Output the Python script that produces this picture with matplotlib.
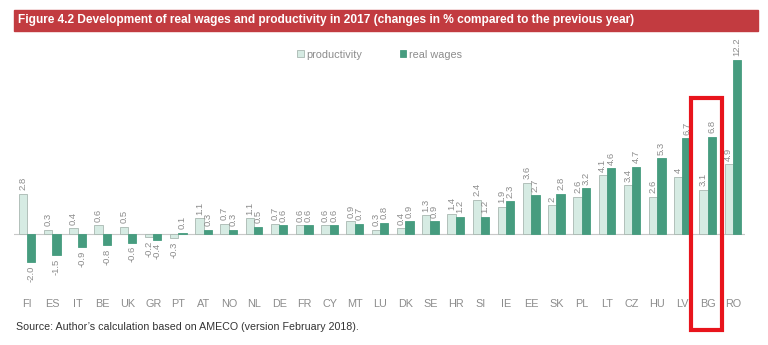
import matplotlib
matplotlib.use("Agg")
import matplotlib.pyplot as plt
from matplotlib.patches import Rectangle
import numpy as np

plt.rcParams['font.family'] = ['Liberation Sans', 'DejaVu Sans']

##########################################
# data
countries = ['FI', 'ES', 'IT', 'BE', 'UK', 'GR', 'PT', 'AT', 'NO', 'NL',
             'DE', 'FR', 'CY', 'MT', 'LU', 'DK', 'SE', 'HR', 'SI', 'IE',
             'EE', 'SK', 'PL', 'LT', 'CZ', 'HU', 'LV', 'BG', 'RO']
productivity = [2.8, 0.3, 0.4, 0.6, 0.5, -0.2, -0.3, 1.1, 0.7, 1.1,
                0.7, 0.6, 0.6, 0.9, 0.3, 0.4, 1.3, 1.4, 2.4, 1.9,
                3.6, 2, 2.6, 4.1, 3.4, 2.6, 4, 3.1, 4.9]
real_wages = [-2.0, -1.5, -0.9, -0.8, -0.6, -0.4, 0.1, 0.3, 0.3, 0.5,
              0.6, 0.6, 0.6, 0.7, 0.8, 0.9, 0.9, 1.2, 1.2, 2.3,
              2.7, 2.8, 3.2, 4.6, 4.7, 5.3, 6.7, 6.8, 12.2]
highlight = 'BG'

title = ("Figure 4.2 Development of real wages and productivity in 2017 "
         "(changes in % compared to the previous year)")
source = "Source: Author\u2019s calculation based on AMECO (version February 2018)."

##########################################
light_col = '#d6ebe3'
light_edge = '#a9b8b1'
dark_col = '#469c7f'
text_gray = '#8c8c8c'

fig = plt.figure(figsize=(7.68, 3.45), dpi=100)
W, H = 768, 345

# title bar
fig.patches.append(Rectangle((14 / W, 1 - 31 / H), (758 - 14) / W, 21 / H,
                             transform=fig.transFigure, color='#c23b40', zorder=0))
fig.text(18 / W, 1 - 20.5 / H, title, color='white', fontsize=8.6, fontweight='bold',
         va='center', ha='left')

ax = fig.add_axes([14 / W, 1 - 295 / H, (745 - 14) / W, (295 - 40) / H])

x = np.arange(len(countries))
w = 0.33
ax.bar(x - w / 2, productivity, w, color=light_col, edgecolor=light_edge,
       linewidth=0.6, label='productivity', zorder=2)
ax.bar(x + w / 2, real_wages, w, color=dark_col, edgecolor=dark_col,
       linewidth=0.6, label='real wages', zorder=2)


# value labels (negatives keep one decimal, whole positives are printed bare)
def fmt(v):
    if v < 0:
        return '%.1f' % v
    return '%g' % v


for xi, vals in [(x - w / 2, productivity), (x + w / 2, real_wages)]:
    for xx, v in zip(xi, vals):
        if v >= 0:
            ax.text(xx, v + 0.25, fmt(v), rotation=90, ha='center', va='bottom',
                    fontsize=6.8, color=text_gray)
        else:
            ax.text(xx, v - 0.25, fmt(v), rotation=90, ha='center', va='top',
                    fontsize=6.8, color=text_gray)

ax.axhline(0, color='#c8c8c8', linewidth=0.8, zorder=1)
ax.set_xlim(-0.52, len(countries) - 0.52)
ax.set_ylim(-4.28, 13.6)
ax.set_xticks(x)
ax.set_xticklabels(countries, fontsize=7.8, color=text_gray)
ax.tick_params(axis='x', length=0, pad=3)
ax.set_yticks([])
for s in ax.spines.values():
    s.set_visible(False)

leg = ax.legend(loc='upper center', bbox_to_anchor=(0.5, 1.0), ncol=2, frameon=False,
                fontsize=7.8, handlelength=0.6, handleheight=0.6, handletextpad=0.2,
                columnspacing=3.5, labelcolor=text_gray)

# red highlight box around BG
bi = countries.index(highlight)
ax.add_patch(Rectangle((bi - 0.65, -6.7), 1.2, 9.5 + 6.7, fill=False,
                       edgecolor='#e8141c', linewidth=3, clip_on=False, zorder=5))

fig.text(16 / W, 1 - 327 / H, source, fontsize=7.7, color='#333333',
         va='center', ha='left')

fig.savefig('out.png', dpi=100)
